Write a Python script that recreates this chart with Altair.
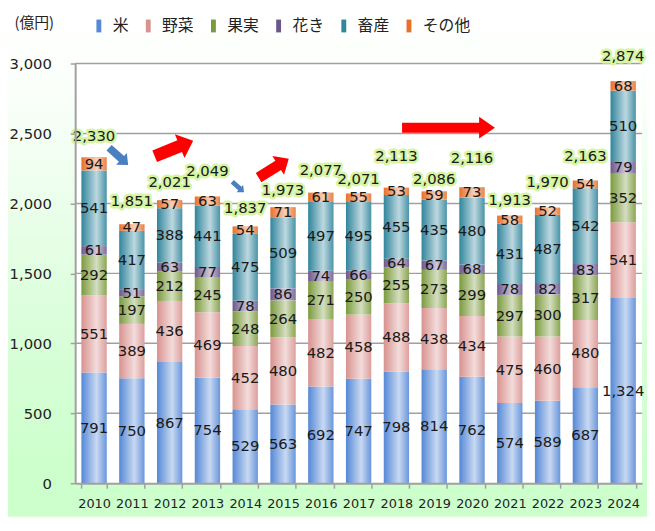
import altair as alt
import pandas as pd

# ---------------- data ----------------
years = ["2010", "2011", "2012", "2013", "2014", "2015", "2016", "2017",
         "2018", "2019", "2020", "2021", "2022", "2023", "2024"]
categories = ["米", "野菜", "果実", "花き", "畜産", "その他"]
rice = [791, 750, 867, 754, 529, 563, 692, 747, 798, 814, 762, 574, 589, 687, 1324]
vegetables = [551, 389, 436, 469, 452, 480, 482, 458, 488, 438, 434, 475, 460, 480, 541]
fruit = [292, 197, 212, 245, 248, 264, 271, 250, 255, 273, 299, 297, 300, 317, 352]
flowers = [61, 51, 63, 77, 78, 86, 74, 66, 64, 67, 68, 78, 82, 83, 79]
livestock = [541, 417, 388, 441, 475, 509, 497, 495, 455, 435, 480, 431, 487, 542, 510]
other = [94, 47, 57, 63, 54, 71, 61, 55, 53, 59, 73, 58, 52, 54, 68]
totals = [2330, 1851, 2021, 2049, 1837, 1973, 2077, 2071, 2113, 2086, 2116, 1913, 1970, 2163, 2874]
y_ticks = [0, 500, 1000, 1500, 2000, 2500, 3000]

# layout only: how far (px) each total label sits above its bar (staggered as in the source)
total_label_lift_px = [21, 23, 19, 26, 18, 17, 23, 15, 32, 12, 30, 16, 26, 25, 25]

colors = ["#5588d6", "#d8928f", "#7b9a3c", "#6a578c", "#31859c", "#e8702a"]

W, H = 574, 425
PAD = {"left": 68, "top": 53, "right": 5, "bottom": 34}
YMAX = 3000

series = [rice, vegetables, fruit, flowers, livestock, other]
rows = []
for i, yr in enumerate(years):
    base = 0
    for k, cat in enumerate(categories):
        v = series[k][i]
        rows.append({"year": yr, "cat": cat, "order": k, "value": v,
                     "y0": base, "y1": base + v, "mid": base + v / 2})
        base += v
seg = pd.DataFrame(rows)
tot = pd.DataFrame({"year": years, "total": totals})
tot["label_y"] = [t + lift * YMAX / H for t, lift in zip(totals, total_label_lift_px)]
grid = pd.DataFrame({"v": y_ticks[1:]})
dummy = pd.DataFrame({"a": [0]})

FONT = "DejaVu Sans"
JP = "Noto Sans CJK JP"

x_enc = alt.X("year:N",
              scale=alt.Scale(domain=years, paddingInner=0.33, paddingOuter=0.165),
              axis=alt.Axis(labelAngle=0, tickBand="extent", tickSize=5,
                            tickColor="#a0a0a0", tickWidth=1.5,
                            domainColor="#a0a0a0", domainWidth=2,
                            labelPadding=10, labelFont=FONT, labelFontSize=13,
                            labelColor="#222222", title=None, grid=False, zindex=1))

y_scale = alt.Scale(domain=[0, YMAX], nice=False)
y_axis = alt.Axis(values=y_ticks, format=",.0f", grid=False,
                  domainColor="#a0a0a0", domainWidth=2,
                  tickColor="#a0a0a0", tickWidth=1.5, tickSize=5,
                  labelPadding=19, labelFont=FONT, labelFontSize=15,
                  labelColor="#222222",
                  title="(億円)", titleAngle=0, titleX=-42, titleY=-41,
                  titleAlign="center", titleBaseline="middle",
                  titleFont=JP, titleFontSize=15, titleFontWeight="normal",
                  titleColor="#222222", zindex=1)


def yq(field):
    return alt.Y(field, scale=y_scale, axis=y_axis, title="(億円)")


bg = alt.Chart(dummy).mark_rect(
    color=alt.Gradient(gradient="linear", x1=0, x2=0, y1=0, y2=1,
                       stops=[alt.GradientStop(offset=0, color="#ffffff"),
                              alt.GradientStop(offset=0.15, color="#fbfffb"),
                              alt.GradientStop(offset=0.6, color="#dcfedc"),
                              alt.GradientStop(offset=0.9, color="#ccffcc"),
                              alt.GradientStop(offset=1, color="#ccffcc")])
).encode(x=alt.value(-PAD["left"]), x2=alt.value(W + PAD["right"]),
         y=alt.value(-PAD["top"]), y2=alt.value(H + PAD["bottom"]))

plot_bg = alt.Chart(dummy).mark_rect(color="white").encode(
    x=alt.value(0), x2=alt.value(W), y=alt.value(0), y2=alt.value(H))

grid_layer = alt.Chart(grid).mark_rule(color="#a0a0a0", strokeWidth=1.5).encode(
    y=yq("v:Q"), x=alt.value(0), x2=alt.value(W))

bars = alt.Chart(seg).mark_bar().encode(
    x=x_enc,
    y=yq("y1:Q"),
    y2="y0:Q",
    color=alt.Color("cat:N", scale=alt.Scale(domain=categories, range=colors),
                    legend=alt.Legend(title=None, orient="none", legendX=16, legendY=-46,
                                      direction="horizontal",
                                      symbolType="M-0.38,-1H0.38V1H-0.38Z",
                                      symbolSize=169, symbolStrokeWidth=0,
                                      symbolOpacity=1,
                                      labelFont=JP, labelFontSize=16,
                                      labelColor="#222222", columnPadding=11,
                                      labelOffset=6, padding=0)),
    order=alt.Order("order:Q"),
)

shine = alt.Chart(tot).mark_bar(
    color=alt.Gradient(gradient="linear", x1=0, x2=1, y1=0, y2=0,
                       stops=[alt.GradientStop(offset=0, color="rgba(255,255,255,0)"),
                              alt.GradientStop(offset=0.6, color="rgba(255,255,255,0.68)"),
                              alt.GradientStop(offset=1, color="rgba(255,255,255,0.12)")])
).encode(x=x_enc, y=yq("total:Q"))

seg_labels = alt.Chart(seg).mark_text(
    font=FONT, fontSize=15, color="#1a1a1a", baseline="middle"
).encode(x=x_enc, y=yq("mid:Q"), text=alt.Text("value:Q", format=","))

tot_glow = alt.Chart(tot).mark_text(
    font=FONT, fontSize=15, color="#d6f5a3", stroke="#d6f5a3", strokeWidth=5,
    strokeJoin="round", baseline="middle"
).encode(x=x_enc, y=yq("label_y:Q"), text=alt.Text("total:Q", format=","))

tot_text = alt.Chart(tot).mark_text(
    font=FONT, fontSize=15, color="#1a1a1a", baseline="middle"
).encode(x=x_enc, y=yq("label_y:Q"), text=alt.Text("total:Q", format=","))

FAT = "M-1,-0.3L0.3,-0.3L0.3,-0.62L1,0L0.3,0.62L0.3,0.3L-1,0.3Z"
LONG = "M-1,-0.106L0.66,-0.106L0.66,-0.234L1,0L0.66,0.234L0.66,0.106L-1,0.106Z"


def arrow(px, py, length, angle, color, shape=FAT):
    return alt.Chart(dummy).mark_point(
        shape=shape, size=length * length, angle=angle, filled=True,
        color=color, opacity=1, strokeWidth=0
    ).encode(x=alt.value(px), y=alt.value(py))


arrows = [
    arrow(44, 94, 26, 42, "#4a7fc1"),
    arrow(100, 86, 42, 338, "#ff0000"),
    arrow(165, 125, 16, 42, "#4a7fc1"),
    arrow(201, 106, 36, 328, "#ff0000"),
    arrow(378, 65, 94, 0, "#ff0000", LONG),
]

chart = alt.layer(
    bg, plot_bg, grid_layer, bars, shine, seg_labels, tot_glow, tot_text, *arrows
).properties(
    width=W, height=H, padding=PAD,
    autosize=alt.AutoSizeParams(type="none"),
).configure_view(stroke=None)

chart.save("out.html", embed_options={"renderer": "svg", "actions": False})
